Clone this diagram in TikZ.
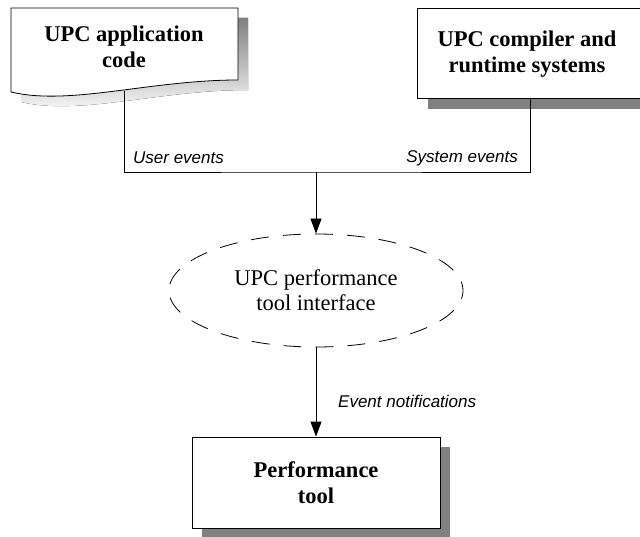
\documentclass[tikz,border=0pt]{standalone}
\usepackage{fontspec}
\setmainfont{Liberation Serif}
\setsansfont{Liberation Sans}
\usetikzlibrary{arrows.meta,shapes.geometric,shadows}
\definecolor{shade}{RGB}{128,128,128}
\begin{document}
\begin{tikzpicture}[x=1pt,y=-1pt,
  title/.style={font=\fontsize{22.5}{25.5}\selectfont\bfseries, align=center, inner sep=0pt},
  lbl/.style={font=\fontsize{17}{20}\selectfont\sffamily\itshape, inner sep=0pt},
  conn/.style={line width=0.8pt},
  arr/.style={line width=0.8pt,-{Triangle[length=15pt,width=11pt]}},
  boxstyle/.style={draw, fill=white, line width=0.8pt, inner sep=0pt, align=center,
     font=\fontsize{22.5}{25.5}\selectfont\bfseries},
  shad/.style={drop shadow={shadow xshift=#1pt, shadow yshift=-#1pt, fill=shade, opacity=1}}]
\useasboundingbox (0,0) rectangle (640,537);
\clip (0,0) rectangle (640,537);
% document shape (application code)
\fill[shade] (21,18) -- (248,18) -- (248,90) .. controls (160,90) and (80,116) .. (21,102) -- cycle;
\filldraw[fill=white, line width=0.8pt] (11,8) -- (238,8) -- (238,80) .. controls (150,80) and (70,106) .. (11,92) -- cycle;
\node[title] (app) at (124,47) {UPC application\\code};
\coordinate (appout) at (124,91);
% compiler / runtime box
\node[boxstyle, shad=11, minimum width=226pt, minimum height=90pt] (rts) at (530,53) {};
\node[title] (rtstext) at (527,54) {UPC compiler and\\runtime systems};
% interface ellipse
\node[ellipse, draw, line width=0.8pt, dash pattern=on 18pt off 14pt, dash phase=9pt,
      minimum width=294pt, minimum height=113pt, inner sep=0pt, align=center,
      font=\fontsize{22.5}{25}\selectfont] (pti) at (316,290.5) {UPC performance\\tool interface};
% performance tool box
\node[boxstyle, shad=10, minimum width=248pt, minimum height=91pt] (perf) at (316,482.5) {Performance\\tool};
% connectors
\coordinate (bus) at (316,172);
\draw[conn] (appout) |- (bus) -| (rts.south);
\draw[arr] (bus) -- (pti.north);
\draw[arr] (pti.south) -- (perf.north);
% labels
\node[lbl, anchor=west] (ue) at (133,158) {User events};
\node[lbl, anchor=east] (se) at (518,158) {System events};
\node[lbl, anchor=west] (en) at (338,401) {Event notifications};
\end{tikzpicture}
\end{document}
